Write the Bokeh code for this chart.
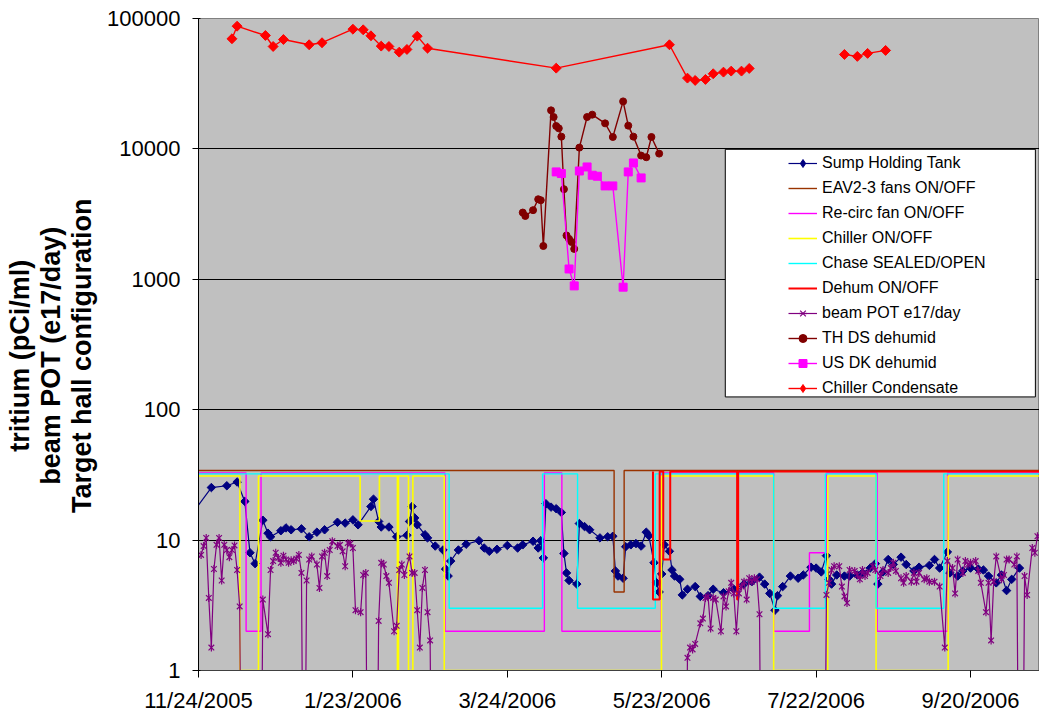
import numpy as np
import pandas as pd
from bokeh.plotting import figure
from bokeh.models import (FixedTicker, PrintfTickFormatter, Legend, LegendItem,
                          BoxAnnotation, Range1d)
from bokeh.embed import file_html
from bokeh.resources import INLINE

# ---------------- data ----------------
START_DATE = "2005-11-24"          # x values below are days after this date
END_DAY = 326.8                    # right edge of the plot area (days)

x_tick_dates = ["2005-11-24", "2006-01-23", "2006-03-24", "2006-05-23", "2006-07-22", "2006-09-20"]
x_tick_labels = ["11/24/2005", "1/23/2006", "3/24/2006", "5/23/2006", "7/22/2006", "9/20/2006"]
y_ticks = [1, 10, 100, 1000, 10000, 100000]
y_title_lines = ["tritium (pCi/ml)", "beam POT (e17/day)", "Target hall configuration"]

sump_day = [-3, 5, 11, 15, 18, 20, 22, 25, 27, 28,
            32, 34, 36, 40, 43, 46, 49, 54, 57, 60,
            62, 67, 68, 70, 71, 74, 77, 81, 82, 83,
            84, 85, 88, 89, 92, 95, 96, 97, 98, 101,
            104, 109, 111, 113, 116, 120, 124, 126, 130, 132,
            133, 134, 135, 137, 139, 141, 142, 143, 144, 147,
            148, 150, 152, 156, 159, 161, 162, 163, 165, 166,
            168, 170, 172, 174, 175, 177, 178, 179, 180, 181,
            183, 184, 185, 187, 188, 190, 193, 195, 198, 200,
            204, 208, 212, 215, 218, 220, 222, 224, 225, 227,
            230, 233, 235, 238, 240, 242, 244, 245, 246, 248,
            251, 253, 256, 258, 261, 263, 264, 266, 268, 270,
            273, 275, 278, 280, 284, 286, 288, 291, 292, 295,
            297, 300, 303, 305, 307, 310, 312, 314, 316, 319]
sump_val = [15.4, 25.3, 26.1, 27.9, 19.8, 8.0, 6.6, 14.2, 11.3, 10.6,
            11.8, 12.4, 12.0, 12.2, 10.6, 11.5, 12.0, 13.7, 13.5, 14.3,
            13.1, 18.1, 20.6, 13.9, 12.6, 12.6, 10.6, 10.9, 13.9, 18.1,
            14.8, 13.1, 11.0, 10.4, 9.0, 8.4, 6.0, 5.3, 6.9, 8.4,
            9.3, 9.9, 8.7, 8.2, 8.5, 9.1, 8.7, 9.2, 9.8, 8.7,
            9.9, 7.3, 19.0, 17.9, 17.4, 16.3, 7.9, 5.6, 4.9, 4.6,
            13.4, 12.7, 12.0, 10.4, 10.6, 10.7, 5.8, 5.3, 5.1, 8.9,
            9.2, 9.4, 9.0, 11.5, 10.8, 6.7, 4.7, 4.0, 5.5, 9.2,
            8.2, 5.9, 5.3, 5.0, 3.8, 4.2, 4.4, 3.7, 3.75, 4.2,
            3.95, 4.2, 4.6, 4.8, 5.2, 4.6, 3.9, 2.9, 3.75, 4.4,
            5.3, 5.1, 5.4, 6.2, 6.1, 5.7, 7.6, 5.0, 4.6, 5.4,
            5.3, 5.3, 5.4, 5.6, 6.1, 6.6, 4.6, 5.7, 7.1, 6.5,
            7.4, 6.5, 5.8, 6.2, 6.4, 7.1, 6.1, 8.1, 5.6, 5.3,
            5.8, 6.1, 6.0, 5.9, 5.3, 4.7, 5.4, 4.1, 5.0, 6.1]

# configuration ON/OFF lines: day of change and level after the change
eav_day = [-5, 161.5, 165.4]
eav_lvl = [34.2, 4.0, 34.2]
recirc_day = [-5, 18.5, 24.3, 95.8, 134.4, 141.2, 179.8, 223.5, 237.4, 244.0, 263.7, 291.1]
recirc_lvl = [32.7, 2, 32.7, 2, 32.7, 2, 32.7, 2, 8, 32.7, 2, 32.7]
chiller_day = [-5, 16.1, 23.3, 62.8, 70.3, 77.3, 77.7, 81.6, 83.3, 95.5, 179.9, 223.5, 244.5, 263.3, 291.3]
chiller_lvl = [31, 1, 31, 14, 31, 1, 31, 1, 31, 1, 31, 1, 31, 1, 31]
chase_day = [-5, 97.4, 133.7, 147.3, 177.5, 223.5, 243.6, 263.3, 289.6]
chase_lvl = [32.2, 3, 32.2, 3, 32.2, 3, 32.2, 3, 32.2]
dehum_day = [176.6, 176.6, 179.2, 180.6, 183.3, 209.3, 209.7]
dehum_lvl = [33.6, 3.5, 33.6, 7.1, 33.6, 3.5, 33.6]

beam_day = [-1, 1, 2, 3, 4, 5, 6, 7, 8, 9, 10, 11, 12, 13, 14, 15, 16, 17, 24, 25,
            27, 28, 29, 30, 31, 32, 33, 34, 35, 36, 37, 38, 39, 40, 41, 42, 43, 44, 46, 47,
            48, 49, 50, 51, 52, 54, 55, 56, 57, 58, 59, 60, 61, 63, 64, 65, 66, 69, 70, 71,
            72, 73, 74, 76, 77, 78, 79, 80, 82, 83, 84, 85, 86, 87, 88, 89, 90, 91,
            189, 190, 191, 192, 193, 195, 196, 197, 198, 199, 200, 201, 203, 204, 205, 206,
            207, 208, 209, 210, 211, 212, 213, 214, 215, 216, 217, 218, 219,
            243, 244, 245, 246, 247, 249, 250, 251, 252, 253, 255, 256, 257, 258, 259, 260,
            262, 263, 265, 266, 268, 269, 270, 271, 273, 274, 275, 277, 278, 279, 280, 282,
            283, 284, 286, 288, 290, 291, 293, 294, 295, 297, 298, 299, 300, 302, 303, 304,
            306, 307, 308, 309, 310, 312, 313, 314, 315, 317, 318, 319, 320, 321, 322, 324,
            325, 326]
beam_val = [6.9, 7.7, 9.0, 10.4, 3.6, 1.5, 6.0, 9.2, 10.4, 4.9, 9.2, 8.4, 7.4, 8.4, 9.1, 5.9, 3.1, 0, 0, 3.5,
            1.9, 5.9, 6.9, 8.0, 7.3, 6.7, 7.6, 7.1, 6.7, 7.0, 6.9, 7.2, 7.7, 5.6, 0, 4.9, 7.1, 7.5, 6.5, 4.3,
            7.5, 8.0, 5.3, 8.4, 9.8, 9.0, 9.2, 8.2, 6.3, 9.5, 9.4, 8.7, 2.9, 2.8, 5.4, 5.6, 0, 0, 2.4, 6.7,
            6.5, 5.3, 4.7, 2.0, 2.2, 5.9, 6.5, 5.4, 7.5, 5.6, 5.6, 2.9, 1.5, 4.3, 5.9, 2.8, 1.7, 0,
            0, 1.25, 1.5, 1.45, 1.6, 2.3, 2.5, 3.6, 3.7, 2.1, 3.6, 3.5, 2.0, 3.7, 3.1, 4.05,
            4.7, 3.9, 2.0, 3.9, 4.4, 4.8, 3.5, 5.1, 4.8, 5.1, 5.0, 2.7, 0,
            0, 3.8, 4.7, 5.9, 6.3, 6.3, 4.4, 3.7, 3.3, 5.9, 5.8, 5.4, 5.0, 5.9, 5.3, 5.6,
            6.3, 5.9, 5.3, 5.9, 5.6, 6.1, 6.7, 5.8, 5.1, 4.7, 5.3, 4.8, 5.6, 4.8, 5.6, 5.0,
            5.1, 4.8, 4.8, 4.4, 1.5, 6.9, 6.1, 3.9, 7.1, 5.6, 6.9, 6.5, 6.7, 6.9, 5.8, 4.7,
            2.8, 4.7, 1.7, 4.8, 7.5, 5.0, 5.4, 7.1, 7.1, 6.5, 7.5, 0, 0, 5.3, 3.8, 8.7,
            8.0, 10.7]

thds_day = [126, 127, 130, 132, 133, 134, 137, 138, 139, 140, 141, 142, 143, 144, 145, 146,
            148, 151, 153, 158, 161, 165, 167, 169, 172, 174, 176, 179]
thds_val = [3250, 3060, 3390, 4110, 4040, 1800, 19750, 17550, 14970, 14380, 12420, 4910, 2170,
            2040, 1930, 1710, 10230, 17550, 18310, 15700, 12340, 23140, 15080, 12420, 8890,
            8630, 12340, 9200]

usdk_day = [139, 141, 144, 146, 148, 151, 153, 155, 158, 161, 165, 167, 169, 172]
usdk_val = [6660, 6470, 1200, 890, 6770, 7270, 6280, 6170, 5200, 5200, 870, 6660, 7800, 5990]

cond_day = [13, 15, 26, 29, 33, 43, 48, 60, 64, 67, 71, 74, 78, 81, 85, 89, 139, 183,
            190, 193, 197, 200, 204, 207, 211, 214, 230, 251, 256, 260, 267]
cond_val = [69900, 87300, 74100, 61000, 69000, 62900, 65200, 82800, 81900, 73700, 61400,
            61000, 55200, 57900, 73200, 59200, 41600, 62900, 34900, 33500, 34100, 37700,
            38800, 39500, 39500, 41400, None, 53000, 51200, 54000, 56900]

# ---------------- helpers ----------------
DAY_MS = 86400000.0
START_MS = pd.Timestamp(START_DATE).value / 1e6


def xms(days):
    return START_MS + np.asarray(days, dtype=float) * DAY_MS


def vals(v):
    return np.array([np.nan if a is None else a for a in v], dtype=float)


FONT = "Liberation Sans"

p = figure(width=1039, height=715, x_axis_type="datetime", y_axis_type="log",
           output_backend="svg", toolbar_location=None,
           x_range=Range1d(START_MS, float(xms(END_DAY))), y_range=Range1d(1, 100000),
           min_border_left=198, min_border_right=0, min_border_top=18, min_border_bottom=44,
           background_fill_color="#C0C0C0", border_fill_color="white")
p.outline_line_color = "#808080"

x_tick_ms = [pd.Timestamp(d).value / 1e6 for d in x_tick_dates]
p.xaxis.ticker = FixedTicker(ticks=x_tick_ms)
p.xaxis.major_label_overrides = dict(zip(x_tick_ms, x_tick_labels))
p.xaxis.major_tick_out = 7
p.xaxis.major_tick_in = 0
p.xaxis.minor_tick_line_color = None
p.xaxis.major_label_standoff = 10
p.xaxis.axis_line_color = "#404040"

p.yaxis.ticker = FixedTicker(ticks=y_ticks)
p.yaxis.formatter = PrintfTickFormatter(format="%d")
p.yaxis.minor_tick_line_color = None
p.yaxis.major_tick_out = 6
p.yaxis.major_tick_in = 2
p.yaxis.major_label_standoff = 12
# trailing no-break spaces nudge the centred title slightly downwards, as in the original
p.yaxis.axis_label = "\n".join(s + "\u00a0\u00a0\u00a0" for s in y_title_lines)
p.yaxis.axis_label_text_font_style = "bold"
p.yaxis.axis_label_text_font_size = "27px"
p.yaxis.axis_label_text_line_height = 1.04
p.yaxis.axis_label_text_font = FONT
p.yaxis.axis_label_text_color = "black"
p.yaxis.axis_label_standoff = 7
p.yaxis.axis_line_color = "black"

for ax in (p.xaxis, p.yaxis):
    ax.major_label_text_font = FONT
    ax.major_label_text_font_size = "22px"
    ax.major_label_text_color = "black"
    ax.major_tick_line_color = "black"

p.xgrid.grid_line_color = None
p.ygrid.ticker = FixedTicker(ticks=y_ticks)
p.ygrid.grid_line_color = "black"
p.ygrid.grid_line_width = 1

NAN = [np.nan]
items = []

# Sump Holding Tank
sx, sy = xms(sump_day), vals(sump_val)
r1 = p.line(sx, sy, line_color="#000080", line_width=1.2)
p.scatter(sx, sy, marker="square", angle=np.pi / 4, size=6,
          fill_color="#000080", line_color="#000080")
r2 = p.scatter(NAN, NAN, marker="diamond", size=10, fill_color="#000080", line_color="#000080")
items.append(LegendItem(label="Sump Holding Tank", renderers=[r1, r2]))


def step_series(days, lvls, color, label, width=1.4):
    d = list(days) + [END_DAY + 5]
    l = list(lvls) + [lvls[-1]]
    r = p.step(xms(d), vals(l), mode="after", line_color=color, line_width=width)
    items.append(LegendItem(label=label, renderers=[r]))


step_series(eav_day, eav_lvl, "#993300", "EAV2-3 fans ON/OFF")
step_series(recirc_day, recirc_lvl, "#FF00FF", "Re-circ fan ON/OFF")
step_series(chiller_day, chiller_lvl, "#FFFF00", "Chiller ON/OFF", 1.6)
step_series(chase_day, chase_lvl, "#00FFFF", "Chase SEALED/OPEN")
step_series(dehum_day, dehum_lvl, "#FF0000", "Dehum ON/OFF", 2)

# beam POT (zero days fall below the log axis)
bx = xms(beam_day)
bv = vals(beam_val)
by = np.where(bv <= 0, 0.01, bv)
b1 = p.line(bx, by, line_color="#800080", line_width=1.2)
b2 = p.scatter(bx, by, marker="x", size=8, line_color="#800080", line_width=1.2)
b3 = p.scatter(bx, by, marker="dash", angle=np.pi / 2, size=8, line_color="#800080", line_width=1.2)
items.append(LegendItem(label="beam POT e17/day", renderers=[b1, b2, b3]))

# TH DS dehumid
tx, ty = xms(thds_day), vals(thds_val)
t1 = p.line(tx, ty, line_color="#800000", line_width=1.4)
t2 = p.scatter(tx, ty, marker="circle", size=7, fill_color="#800000", line_color="#800000")
items.append(LegendItem(label="TH DS dehumid", renderers=[t1, t2]))

# US DK dehumid
ux, uy = xms(usdk_day), vals(usdk_val)
u1 = p.line(ux, uy, line_color="#FF00FF", line_width=1.4)
u2 = p.scatter(ux, uy, marker="square", size=8, fill_color="#FF00FF", line_color="#FF00FF")
items.append(LegendItem(label="US DK dehumid", renderers=[u1, u2]))

# Chiller Condensate
cx, cy = xms(cond_day), vals(cond_val)
c1 = p.line(cx, cy, line_color="#FF0000", line_width=1.4)
p.scatter(cx, cy, marker="square", angle=np.pi / 4, size=7,
          fill_color="#FF0000", line_color="#FF0000")
c2 = p.scatter(NAN, NAN, marker="diamond", size=13, fill_color="#FF0000", line_color="#FF0000")
items.append(LegendItem(label="Chiller Condensate", renderers=[c1, c2]))

# legend frame (white box with black border), then the legend entries on top
box = BoxAnnotation(left=float(xms(204.7)), right=float(xms(325.2)), top=9930, bottom=125.3,
                    fill_color="white", fill_alpha=1, line_color="black", line_width=1,
                    line_alpha=1)
p.add_layout(box)

legend = Legend(items=items, location=(590, 272), orientation="vertical",
                background_fill_alpha=0, border_line_alpha=0, padding=0, margin=0,
                spacing=5, glyph_width=29, glyph_height=20, label_height=20,
                label_standoff=5, label_text_font=FONT, label_text_font_size="16px",
                label_text_color="black")
p.add_layout(legend, "center")

open("out.html", "w").write(file_html(p, INLINE))
